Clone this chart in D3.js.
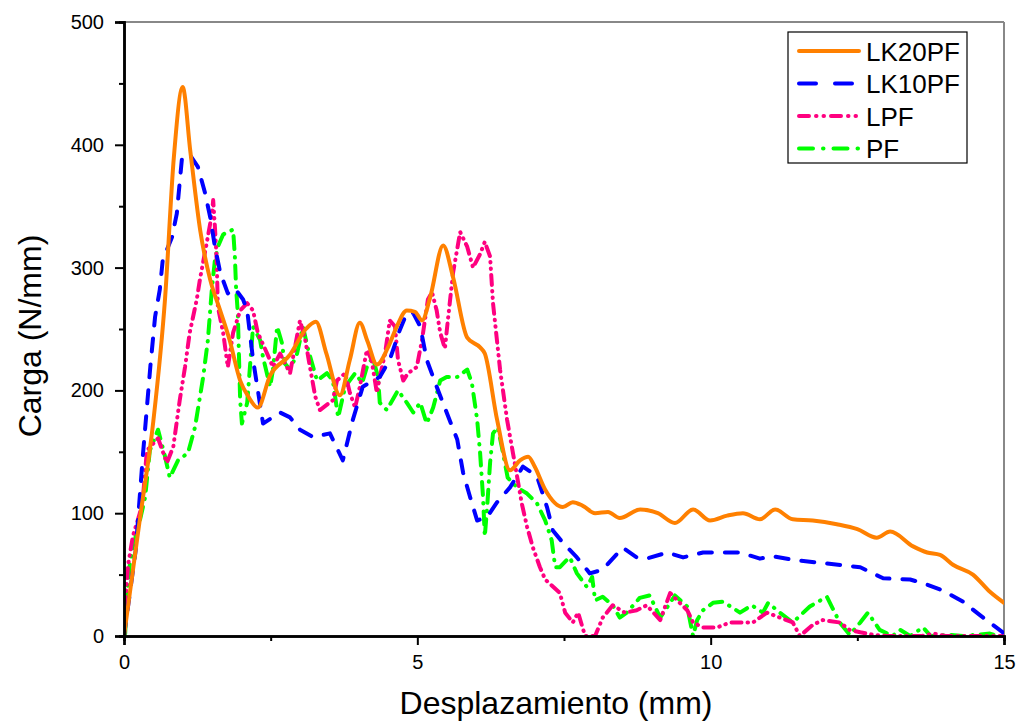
<!DOCTYPE html>
<html><head><meta charset="utf-8">
<script src="https://cdn.jsdelivr.net/npm/d3@7"></script>
<style>body{margin:0;background:#fff;} text{font-family:Arial,"Liberation Sans",sans-serif;}</style>
</head><body>
<svg id="c" width="1018" height="721"></svg>
<script>
const seriesNames = ["LK20PF","LK10PF","LPF","PF"];
const xTicks = [0,5,10,15];
const yTicks = [0,100,200,300,400,500];

const lk20X = [0,0.27,0.5,0.7,0.85,1.0,1.13,1.3,1.47,1.64,1.8,1.98,2.12,2.28,2.49,2.83,3.1,3.27,3.45,3.68,3.85,4.02,4.15,4.31,4.5,4.65,4.82,4.96,5.08,5.22,5.44,5.61,5.85,6.07,6.15,6.36,6.58,6.75,6.89,7.0,7.18,7.48,7.65,7.82,8.03,8.25,8.45,8.8,9.1,9.39,9.7,9.99,10.28,10.55,10.84,11.1,11.4,11.74,12.15,12.5,12.83,13.06,13.45,13.69,13.91,14.13,14.47,14.76,15.0];
const lk20Y = [0,95,175,275,390,447,395,330,290,265,241,208,195,186,212,229,250,256,230,196,225,255,240,221,235,252,265,264,257,276,318,292,243,235,230,176,135,143,146,138,119,105,109,106,100,101,96,103,100,92,103,94,98,100,95,103,95,94,91,87,80,85,73,68,66,58,50,36,27];

const lk10X = [0,0.1,0.2,0.32,0.45,0.53,0.61,0.66,0.82,0.9,0.99,1.12,1.26,1.38,1.47,1.55,1.64,1.77,1.89,2.03,2.1,2.2,2.37,2.66,2.83,3.0,3.22,3.51,3.73,3.9,4.07,4.36,4.53,4.7,4.82,4.93,5.05,5.16,5.33,5.5,5.68,5.78,5.9,6.02,6.19,6.36,6.58,6.8,7.04,7.21,7.31,7.48,7.72,7.94,8.16,8.5,8.74,8.91,9.26,9.53,9.87,10.33,10.5,10.84,11.06,11.4,11.98,12.55,12.94,13.4,13.62,13.96,14.3,14.59,14.81,14.98];
const lk10Y = [0,35,70,146,220,260,282,306,325,344,390,392,382,361,341,317,296,279,283,274,265,225,173,182,178,168,162,165,143,176,203,211,225,249,263,263,252,225,203,182,160,133,113,94,97,109,121,138,130,105,86,76,64,51,54,72,64,63,68,64,68,68,68,63,65,62,59,56,47,46,43,37,28,17,9,3];

const lpfX = [0,0.02,0.07,0.15,0.27,0.32,0.39,0.58,0.73,0.84,0.95,1.04,1.12,1.24,1.3,1.41,1.5,1.52,1.55,1.58,1.6,1.69,1.77,1.86,1.98,2.1,2.2,2.28,2.44,2.54,2.66,2.83,3.0,3.09,3.17,3.26,3.34,3.56,3.63,3.77,3.85,3.94,4.02,4.14,4.22,4.31,4.36,4.45,4.53,4.62,4.67,4.76,4.84,4.99,5.08,5.18,5.25,5.33,5.39,5.47,5.52,5.61,5.73,5.85,5.95,6.07,6.15,6.24,6.29,6.41,6.53,6.63,6.7,6.78,6.87,6.97,7.09,7.18,7.43,7.52,7.65,7.74,7.86,8.03,8.16,8.33,8.54,8.74,8.91,9.14,9.31,9.43,9.6,9.7,9.87,10.11,10.33,10.55,10.72,10.96,11.18,11.4,11.52,11.74,11.91,12.2,12.37,12.55,12.77,13.0,13.6,13.8,14.0,15.0];
const lpfY = [0,27,58,81,100,111,151,161,141,154,192,219,247,274,292,320,344,355,333,306,268,247,219,247,265,271,265,247,230,219,230,214,257,241,219,195,184,192,208,214,198,186,203,233,225,198,211,230,257,252,225,208,214,219,241,274,280,265,247,234,257,296,329,317,300,311,321,309,271,217,176,149,130,108,89,72,56,46,35,19,11,19,0,0,15,25,19,21,25,13,35,29,21,11,7,7,11,11,11,19,15,11,0,9,13,11,5,3,1,0,0,2,0,0,0];

const pfX = [0,0.02,0.05,0.1,0.15,0.27,0.36,0.39,0.44,0.58,0.7,0.78,0.92,1.09,1.21,1.35,1.43,1.5,1.55,1.6,1.69,1.77,1.86,1.89,1.91,1.94,1.98,2.01,2.1,2.2,2.32,2.37,2.49,2.54,2.61,2.69,2.74,2.83,2.95,3.05,3.14,3.29,3.46,3.56,3.65,3.77,3.94,4.06,4.14,4.24,4.33,4.36,4.48,4.67,4.82,4.93,5.05,5.16,5.27,5.39,5.5,5.68,5.85,5.93,6.02,6.07,6.12,6.15,6.19,6.24,6.29,6.37,6.44,6.54,6.7,6.87,7.04,7.18,7.29,7.35,7.43,7.55,7.6,7.72,7.89,7.98,8.03,8.16,8.33,8.45,8.57,8.79,8.96,9.14,9.31,9.39,9.6,9.7,9.77,9.87,10.04,10.21,10.5,10.7,10.89,10.98,11.18,11.4,11.69,11.98,12.2,12.37,12.55,12.68,12.88,13.1,13.23,13.4,13.62,13.75,14.08,14.3,14.76,14.9,15.0];
const pfY = [0,2,32,59,72,94,113,127,151,168,146,129,143,149,170,211,241,284,306,317,327,329,331,309,284,263,192,173,190,252,241,227,203,217,252,239,222,217,230,252,233,208,214,208,178,203,214,206,219,227,211,190,184,200,190,182,190,173,186,208,211,211,217,206,176,149,113,81,105,141,165,170,154,129,121,116,108,94,78,56,56,62,64,51,40,48,29,32,25,15,19,31,33,15,27,33,24,0,13,21,27,28,19,25,19,27,19,11,24,32,11,1,11,19,5,0,5,0,7,0,1,0,2,0,0];

const W = 1018, H = 721;
const m = {l:124, r:1004, t:22, b:636};
const svg = d3.select("#c");
const x = d3.scaleLinear().domain([0,15]).range([m.l, m.r]);
const y = d3.scaleLinear().domain([0,500]).range([m.b, m.t]);

// frame (top/right grey)
svg.append("line").attr("x1",m.l).attr("x2",m.r).attr("y1",m.t).attr("y2",m.t).attr("stroke","#888").attr("stroke-width",2);
svg.append("line").attr("x1",m.r).attr("x2",m.r).attr("y1",m.t).attr("y2",m.b).attr("stroke","#888").attr("stroke-width",2);

svg.append("clipPath").attr("id","cp").append("rect")
  .attr("x",m.l).attr("y",m.t-5).attr("width",m.r-m.l).attr("height",m.b-m.t+5);

const series = [
  {xs:lk20X, ys:lk20Y, color:"#FF8000", dash:null, curve:d3.curveMonotoneX},
  {xs:lk10X, ys:lk10Y, color:"#0000FF", dash:"13,13", curve:d3.curveLinear},
  {xs:lpfX, ys:lpfY, color:"#FF0080", dash:"10,6,0.5,6,0.5,6", curve:d3.curveLinear},
  {xs:pfX, ys:pfY, color:"#00FF00", dash:"13,8,0.5,8", curve:d3.curveLinear}
];
const g = svg.append("g").attr("clip-path","url(#cp)");
series.slice().reverse().forEach(s=>{
  const pts = s.xs.map((v,i)=>[v,s.ys[i]]);
  const line = d3.line().x(d=>x(d[0])).y(d=>y(d[1])).curve(s.curve);
  g.append("path").attr("d",line(pts)).attr("fill","none").attr("stroke",s.color)
    .attr("stroke-width",4).attr("stroke-linecap","round").attr("stroke-linejoin","round")
    .attr("stroke-dasharray",s.dash);
});

// axes
const xAxis = svg.append("g").attr("transform",`translate(0,${m.b})`)
  .call(d3.axisBottom(x).tickValues(xTicks).tickSize(9).tickPadding(6).tickFormat(d3.format("d")));
const xMinor = svg.append("g").attr("transform",`translate(0,${m.b})`)
  .call(d3.axisBottom(x).tickValues([2.5,7.5,12.5]).tickSize(5).tickFormat(""));
const yAxis = svg.append("g").attr("transform",`translate(${m.l},0)`)
  .call(d3.axisLeft(y).tickValues(yTicks).tickSize(9).tickPadding(11).tickFormat(d3.format("d")));
const yMinor = svg.append("g").attr("transform",`translate(${m.l},0)`)
  .call(d3.axisLeft(y).tickValues([50,150,250,350,450]).tickSize(5).tickFormat(""));
[xAxis,xMinor,yAxis,yMinor].forEach(a=>{
  a.selectAll(".domain").attr("stroke","#000").attr("stroke-width",2.5);
  a.selectAll(".tick line").attr("stroke","#000").attr("stroke-width",2);
  a.selectAll("text").attr("font-size",20).attr("fill","#000").attr("font-family","Arial, 'Liberation Sans', sans-serif");
});
xAxis.selectAll("text").attr("dy","0.9em");

svg.append("text").attr("x",556).attr("y",714).attr("text-anchor","middle")
  .attr("font-size",32).text("Desplazamiento (mm)");
svg.append("text").attr("transform",`translate(41,336) rotate(-90)`).attr("text-anchor","middle")
  .attr("font-size",32).text("Carga (N/mm)");

// legend
const lg = svg.append("g");
lg.append("rect").attr("x",788).attr("y",32).attr("width",179).attr("height",131)
  .attr("fill","#fff").attr("stroke","#000").attr("stroke-width",1.2);
series.forEach((s,i)=>{
  const yy = 51 + i*32.5;
  lg.append("line").attr("x1",799).attr("x2",859).attr("y1",yy).attr("y2",yy)
    .attr("stroke",s.color).attr("stroke-width",4).attr("stroke-linecap","round")
    .attr("stroke-dasharray", i===1 ? "17,19" : i===2 ? "10,7,0.5,7,0.5,7" : i===3 ? "14,10,0.5,10" : null);
  lg.append("text").attr("x",866).attr("y",yy+9.5).attr("font-size",26).text(seriesNames[i]);
});
</script>
</body></html>
